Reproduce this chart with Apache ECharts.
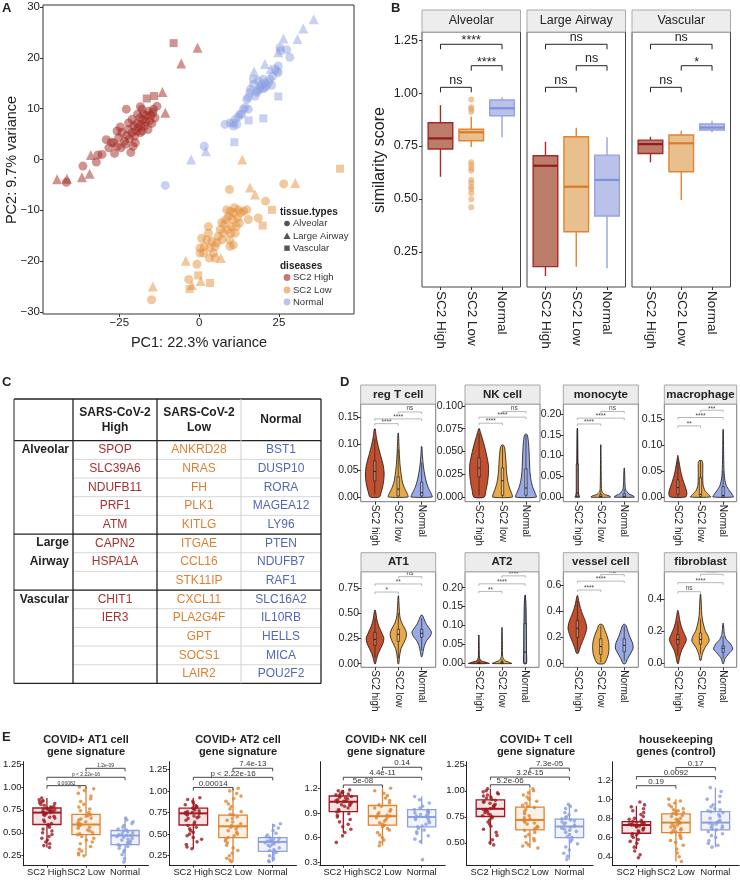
<!DOCTYPE html>
<html><head><meta charset="utf-8">
<script src="https://cdn.jsdelivr.net/npm/echarts@6/dist/echarts.min.js"></script>
<style>html,body{margin:0;padding:0;background:#fff}#c{width:740px;height:880px}</style>
</head><body><div id="c"></div>
<script>
const FONT='"Liberation Sans", Arial, Helvetica, sans-serif';

// ===== Panel A : PCA =====
const pcHighAlveolar=[[-29.1,3.9],[-28.3,2.3],[-27.5,3.4],[-26.5,1.2],[-25.7,2.6],[-25.2,4.3],[-24.5,2.3],[-24.2,5.3],[-23.4,3.6],[-23.1,3.0],[-22.6,4.7],[-22.1,5.9],[-21.8,4.1],[-21.4,1.4],[-21.0,5.3],[-20.5,6.6],[-20.2,4.6],[-19.7,5.6],[-19.5,7.1],[-19.0,6.3],[-18.6,8.2],[-18.4,5.3],[-18.2,6.9],[-17.9,5.6],[-17.6,7.9],[-17.4,8.9],[-17.1,6.6],[-16.8,7.4],[-16.4,8.6],[-16.0,5.9],[-15.8,9.5],[-15.5,7.6],[-15.1,8.7],[-14.8,7.1],[-14.5,9.2],[-14.3,9.9],[-13.8,8.2],[-13.2,10.5],[-20.0,3.3],[-22.8,9.9],[-21.0,7.9],[-19.3,8.9],[-17.9,9.9],[-25.7,5.6],[-26.8,3.3],[-30.4,1.0],[-24.7,6.4],[-22.1,7.2],[-18.4,10.4],[-20.7,2.6],[-41.6,-4.5],[-36.4,-1.3],[-32.2,-0.5],[-31.7,0.9]];
const pcHighAirway=[[-44.5,-3.9],[-41.4,-3.8],[-36.7,-3.5],[-34.3,-2.8],[-33.9,0.9],[-11.5,13.3],[-10.6,9.2],[-5.6,18.9],[-0.5,22.0]];
const pcHighVascular=[[-8.0,22.9],[-16.4,12.0],[-14.1,12.5]];
const pcLowAlveolar=[[0.3,-18.4],[0.8,-15.5],[1.6,-17.1],[2.4,-15.8],[2.9,-13.2],[3.4,-17.4],[4.0,-16.1],[4.5,-18.4],[5.0,-17.1],[5.5,-16.4],[6.0,-15.1],[6.6,-13.8],[7.1,-12.4],[7.6,-14.5],[7.8,-12.8],[8.4,-11.8],[8.9,-13.8],[9.2,-11.2],[9.5,-15.8],[9.7,-10.2],[9.9,-14.5],[10.2,-13.2],[10.5,-11.8],[10.7,-10.5],[11.0,-9.5],[11.3,-14.5],[11.6,-13.2],[12.0,-11.5],[12.3,-9.9],[12.6,-12.5],[13.0,-10.5],[13.9,-10.2],[14.9,-9.9],[15.4,-11.8],[18.5,-11.5],[3.2,-19.4],[5.0,-19.4],[0.3,-17.4],[1.4,-18.4],[10.7,-16.8],[9.7,-17.1],[7.1,-15.8],[2.9,-14.5],[8.6,-9.9],[26.5,-4.8],[20.8,-8.2],[9.5,-5.9],[-14.9,-27.6],[-3.3,-23.6],[-0.7,-20.6]];
const pcLowAirway=[[13.5,0],[30.1,-4.6],[15.9,-5.5],[17.5,-6.9],[-4.2,-19.9],[6.8,-19.4],[-14.5,-25.0],[-2.3,-24.7],[0.5,-23.9]];
const pcLowVascular=[[44.1,-1.8],[22.8,-9.9],[19.9,-13.0],[-0.3,-22.8],[-3.0,-25.5],[3.4,-24.3]];
const pcNormAlveolar=[[8.1,6.9],[9.7,7.2],[10.7,7.1],[11.8,6.9],[11.3,7.9],[12.3,8.4],[12.8,8.9],[13.9,9.9],[14.4,10.2],[14.9,11.8],[15.4,12.2],[15.9,13.2],[16.1,13.8],[17.0,14.8],[17.5,12.5],[18.0,13.2],[18.2,13.5],[18.9,13.8],[19.1,14.3],[19.6,14.8],[19.9,13.9],[20.6,14.1],[21.1,14.5],[21.7,15.1],[22.2,15.8],[22.7,14.6],[23.0,16.4],[23.8,17.8],[24.3,17.4],[24.8,18.4],[25.3,22.0],[25.5,21.4],[27.4,21.6],[28.4,20.1],[24.8,17.1],[20.1,15.8],[17.0,15.8],[13.3,8.9],[15.4,9.9],[10.7,6.6],[20.6,15.1],[18.5,15.5],[-10.6,-5.1],[1.6,2.6]];
const pcNormAirway=[[-2.5,0],[2.1,1.6],[17.2,17.3],[20.6,18.8],[24.8,21.1],[26.4,23.8],[30.8,23.7],[32.6,25.8],[35.9,27.6],[22.4,17.8]];
const pcNormVascular=[[11.0,3.4],[15.5,7.7],[20.1,8.1],[24.8,12.4]];
const pcXTicks=[-25,0,25];
const pcYTicks=[-30,-20,-10,0,10,20,30];

// ===== Panel B : similarity boxplots [lo,q1,med,q3,hi] =====
const bFacets=['Alveolar','Large Airway','Vascular'];
const bCats=['SC2 High','SC2 Low','Normal'];
const bAlveolar=[[0.605,0.736,0.786,0.86,0.943],[0.745,0.775,0.815,0.829,0.888],[0.791,0.893,0.928,0.967,0.98]];
const bLargeAirway=[[0.137,0.181,0.657,0.704,0.77],[0.18,0.346,0.558,0.794,0.836],[0.173,0.42,0.59,0.707,0.791]];
const bVascular=[[0.673,0.715,0.759,0.778,0.794],[0.495,0.629,0.763,0.802,0.822],[0.815,0.826,0.837,0.854,0.869]];
const bAlvLowOutliers=[0.970,0.933,0.925,0.912,0.673,0.660,0.645,0.634,0.590,0.577,0.558,0.546,0.527,0.499,0.461];
const bBrAlveolar=[[1,3,1.23,'****'],[2,3,1.129,'****'],[1,2,1.027,'ns']];
const bBrLargeAirway=[[1,3,1.23,'ns'],[2,3,1.129,'ns'],[1,2,1.027,'ns']];
const bBrVascular=[[1,3,1.23,'ns'],[2,3,1.129,'*'],[1,2,1.027,'ns']];
const bYTicks=[0.25,0.5,0.75,1.0,1.25];

// ===== Panel C : table =====
const cHeaders=['SARS-CoV-2\nHigh','SARS-CoV-2\nLow','Normal'];
const cGroups=['Alveolar','Large\nAirway','Vascular'];
const cGroupRows=[5,3,5];
const cHigh=['SPOP','SLC39A6','NDUFB11','PRF1','ATM','CAPN2','HSPA1A','','CHIT1','IER3','','',''];
const cLow=['ANKRD28','NRAS','FH','PLK1','KITLG','ITGAE','CCL16','STK11IP','CXCL11','PLA2G4F','GPT','SOCS1','LAIR2'];
const cNormal=['BST1','DUSP10','RORA','MAGEA12','LY96','PTEN','NDUFB7','RAF1','SLC16A2','IL10RB','HELLS','MICA','POU2F2'];

// ===== Panel D : violins, profiles [value, half-width] =====
const dCats=['SC2 high','SC2 low','Normal'];
const dTitles=['reg T cell','NK cell','monocyte','macrophage','AT1','AT2','vessel cell','fibroblast'];
const vRegT=[
 [[0,0.2],[0.01,0.28],[0.02,0.34],[0.03,0.38],[0.045,0.4],[0.06,0.36],[0.075,0.27],[0.09,0.18],[0.105,0.1],[0.118,0.05],[0.128,0.02]],
 [[0,0.42],[0.005,0.4],[0.012,0.32],[0.02,0.24],[0.03,0.17],[0.045,0.12],[0.06,0.08],[0.08,0.05],[0.1,0.03],[0.12,0.01]],
 [[0,0.45],[0.005,0.42],[0.012,0.34],[0.02,0.26],[0.03,0.19],[0.045,0.12],[0.06,0.07],[0.08,0.03],[0.095,0.01]]];
const vNK=[
 [[0,0.22],[0.008,0.3],[0.016,0.36],[0.025,0.4],[0.035,0.4],[0.045,0.33],[0.055,0.24],[0.065,0.13],[0.072,0.05],[0.075,0.01]],
 [[0,0.42],[0.004,0.39],[0.01,0.3],[0.018,0.22],[0.028,0.17],[0.038,0.15],[0.048,0.12],[0.054,0.09],[0.057,0.04]],
 [[0,0.44],[0.004,0.4],[0.01,0.3],[0.018,0.22],[0.028,0.17],[0.04,0.15],[0.052,0.13],[0.062,0.1],[0.068,0.06],[0.069,0.02]]];
const vMono=[
 [[0,0.1],[0.004,0.07],[0.01,0.04],[0.03,0.03],[0.08,0.025],[0.12,0.02],[0.16,0.012],[0.166,0.004]],
 [[0,0.42],[0.003,0.36],[0.007,0.15],[0.015,0.04],[0.04,0.02],[0.09,0.012],[0.126,0.004]],
 [[0,0.43],[0.003,0.38],[0.008,0.2],[0.018,0.06],[0.035,0.03],[0.055,0.02],[0.07,0.006]]];
const vMacro=[
 [[0,0.35],[0.008,0.4],[0.018,0.34],[0.028,0.26],[0.038,0.19],[0.048,0.13],[0.058,0.09],[0.068,0.05],[0.076,0.02],[0.08,0.005]],
 [[0,0.45],[0.005,0.35],[0.012,0.2],[0.022,0.12],[0.035,0.1],[0.05,0.1],[0.065,0.1],[0.07,0.06]],
 [[0,0.45],[0.005,0.4],[0.012,0.28],[0.022,0.14],[0.035,0.07],[0.055,0.035],[0.09,0.02],[0.13,0.008]]];
const vAT1=[
 [[0,0.02],[0.05,0.07],[0.1,0.14],[0.15,0.24],[0.2,0.34],[0.25,0.38],[0.3,0.3],[0.35,0.2],[0.4,0.12],[0.45,0.07],[0.5,0.04],[0.53,0.01]],
 [[0,0.02],[0.05,0.04],[0.1,0.07],[0.15,0.12],[0.2,0.22],[0.25,0.32],[0.3,0.35],[0.35,0.27],[0.4,0.15],[0.45,0.08],[0.5,0.05],[0.58,0.03],[0.67,0.01]],
 [[0.07,0.02],[0.12,0.06],[0.18,0.12],[0.23,0.22],[0.27,0.36],[0.31,0.42],[0.35,0.32],[0.39,0.2],[0.43,0.12],[0.46,0.07],[0.48,0.02]]];
const vAT2=[
 [[0,0.45],[0.003,0.32],[0.007,0.1],[0.015,0.03],[0.04,0.015],[0.075,0.005]],
 [[0,0.42],[0.003,0.32],[0.008,0.12],[0.018,0.03],[0.05,0.018],[0.095,0.005]],
 [[0,0.06],[0.03,0.06],[0.07,0.055],[0.11,0.05],[0.15,0.04],[0.18,0.01]]];
const vVessel=[
 [[0.08,0.04],[0.12,0.11],[0.17,0.22],[0.22,0.33],[0.27,0.4],[0.32,0.35],[0.37,0.24],[0.42,0.14],[0.47,0.07],[0.52,0.01]],
 [[0,0.14],[0.03,0.24],[0.07,0.32],[0.12,0.35],[0.17,0.33],[0.22,0.25],[0.26,0.16],[0.29,0.1],[0.3,0.05]],
 [[0,0.05],[0.04,0.15],[0.08,0.28],[0.12,0.38],[0.16,0.35],[0.2,0.25],[0.25,0.15],[0.29,0.08],[0.3,0.03]]];
const vFibro=[
 [[0,0.02],[0.04,0.08],[0.08,0.16],[0.12,0.3],[0.15,0.38],[0.18,0.3],[0.22,0.18],[0.26,0.1],[0.3,0.05],[0.33,0.01]],
 [[0.02,0.02],[0.06,0.08],[0.1,0.2],[0.14,0.38],[0.17,0.34],[0.2,0.22],[0.25,0.12],[0.3,0.06],[0.36,0.04],[0.43,0.01]],
 [[0,0.02],[0.03,0.08],[0.06,0.24],[0.09,0.42],[0.12,0.34],[0.15,0.15],[0.18,0.06],[0.22,0.03],[0.25,0.01]]];
// inner boxes [lo,q1,med,q3,hi]
const dBoxRegT=[[0.005,0.03,0.048,0.068,0.11],[0,0.002,0.015,0.038,0.09],[0,0.002,0.008,0.028,0.065]];
const dBoxNK=[[0.002,0.022,0.032,0.043,0.07],[0,0.002,0.018,0.032,0.056],[0,0.002,0.01,0.031,0.068]];
const dBoxMono=[[0,0.002,0.01,0.08,0.165],[0,0,0.002,0.006,0.015],[0,0,0.002,0.008,0.02]];
const dBoxMacro=[[0,0.005,0.018,0.033,0.07],[0,0.001,0.005,0.037,0.07],[0,0,0.003,0.02,0.05]];
const dBoxAT1=[[0.05,0.18,0.24,0.31,0.45],[0.05,0.22,0.29,0.34,0.5],[0.13,0.26,0.3,0.34,0.45]];
const dBoxAT2=[[0,0,0.001,0.003,0.008],[0,0,0.002,0.005,0.012],[0,0.001,0.03,0.105,0.18]];
const dBoxVessel=[[0.1,0.2,0.27,0.33,0.48],[0.01,0.07,0.13,0.19,0.29],[0.02,0.09,0.14,0.19,0.29]];
const dBoxFibro=[[0.05,0.12,0.15,0.18,0.26],[0.06,0.12,0.15,0.19,0.28],[0.03,0.07,0.095,0.11,0.17]];
const dBrRegT=[[1,2,0.138,'****'],[1,3,0.147,'****'],[2,3,0.160,'ns']];
const dBrNK=[[1,2,0.081,'****'],[1,3,0.0876,'****'],[2,3,0.0937,'ns']];
const dBrMono=[[1,2,0.176,'****'],[1,3,0.19,'****'],[2,3,0.206,'ns']];
const dBrMacro=[[1,2,0.137,'**'],[1,3,0.153,'****'],[2,3,0.167,'***']];
const dBrAT1=[[1,2,0.708,'*'],[1,3,0.788,'**'],[2,3,0.86,'ns']];
const dBrAT2=[[1,2,0.19,'**'],[1,3,0.21,'****'],[2,3,0.231,'****']];
const dBrVessel=[[1,2,0.562,'****'],[1,3,0.63,'****'],[2,3,0.68,'ns']];
const dBrFibro=[[1,2,0.447,'ns'],[1,3,0.503,'****'],[2,3,0.555,'****']];
const dTicksRegT=[0,0.05,0.10,0.15], dTicksNK=[0,0.025,0.05,0.075,0.1], dTicksMono=[0,0.05,0.1,0.15,0.2], dTicksMacro=[0,0.05,0.1,0.15];
const dTicksAT1=[0,0.25,0.5,0.75], dTicksAT2=[0,0.05,0.1,0.15,0.2], dTicksVessel=[0,0.2,0.4,0.6], dTicksFibro=[0,0.2,0.4];

// ===== Panel E : signature scores =====
const eCats=['SC2 High','SC2 Low','Normal'];
const eTitles=['COVID+ AT1 cell\ngene signature','COVID+ AT2 cell\ngene signature','COVID+ NK cell\ngene signature','COVID+ T cell\ngene signature','housekeeping\ngenes (control)'];
const e1High=[0.88,0.86,0.85,0.84,0.83,0.82,0.81,0.80,0.79,0.78,0.77,0.77,0.76,0.76,0.75,0.75,0.74,0.74,0.73,0.73,0.72,0.72,0.71,0.71,0.70,0.69,0.68,0.67,0.66,0.64,0.62,0.60,0.59,0.58,0.56,0.54,0.52,0.50,0.48,0.46,0.44,0.42,0.40,0.38,0.36,0.34];
const e1Low=[1.00,0.98,0.96,0.93,0.90,0.87,0.84,0.81,0.78,0.76,0.74,0.72,0.70,0.69,0.68,0.66,0.65,0.64,0.62,0.61,0.60,0.59,0.58,0.57,0.56,0.55,0.53,0.52,0.50,0.49,0.48,0.46,0.44,0.42,0.40,0.38,0.35,0.32,0.30,0.28,0.26,0.25];
const e1Norm=[0.66,0.64,0.62,0.60,0.58,0.56,0.54,0.53,0.52,0.51,0.50,0.49,0.48,0.47,0.47,0.46,0.45,0.44,0.43,0.42,0.41,0.40,0.39,0.38,0.37,0.36,0.35,0.33,0.31,0.29,0.26,0.22,0.18];
const e2High=[0.92,0.90,0.88,0.86,0.84,0.83,0.82,0.81,0.80,0.79,0.78,0.77,0.76,0.75,0.75,0.74,0.73,0.72,0.71,0.70,0.69,0.68,0.66,0.64,0.62,0.60,0.58,0.56,0.54,0.52,0.50,0.48,0.46,0.44,0.41,0.38,0.35,0.33];
const e2Low=[1.03,1.00,0.97,0.94,0.91,0.88,0.85,0.82,0.79,0.76,0.73,0.72,0.70,0.68,0.66,0.64,0.62,0.60,0.59,0.58,0.56,0.54,0.52,0.50,0.48,0.46,0.44,0.42,0.40,0.37,0.34,0.31,0.28,0.25,0.22,0.20,0.18];
const e2Norm=[0.62,0.60,0.57,0.54,0.51,0.49,0.47,0.46,0.45,0.44,0.43,0.42,0.41,0.41,0.40,0.39,0.38,0.37,0.36,0.34,0.32,0.31,0.30,0.29,0.27,0.25,0.23,0.21,0.19,0.18];
const e3High=[1.18,1.17,1.16,1.15,1.14,1.13,1.12,1.11,1.10,1.09,1.08,1.07,1.06,1.05,1.04,1.04,1.03,1.02,1.01,1.00,0.99,0.98,0.96,0.94,0.92,0.91,0.89,0.87,0.85,0.82,0.79,0.76,0.73,0.70,0.66,0.62,0.54];
const e3Low=[1.20,1.17,1.14,1.11,1.08,1.05,1.02,1.00,0.98,0.96,0.94,0.92,0.90,0.88,0.87,0.86,0.85,0.84,0.82,0.80,0.78,0.76,0.75,0.73,0.71,0.69,0.66,0.63,0.60,0.57,0.54,0.50];
const e3Norm=[1.10,1.06,1.02,0.98,0.96,0.94,0.93,0.92,0.91,0.90,0.89,0.88,0.87,0.86,0.85,0.84,0.83,0.82,0.80,0.78,0.76,0.74,0.73,0.71,0.69,0.67,0.65,0.62,0.58,0.55,0.33];
const e4High=[1.02,1.00,0.99,0.98,0.97,0.96,0.95,0.94,0.93,0.92,0.91,0.90,0.89,0.88,0.87,0.86,0.85,0.84,0.83,0.82,0.82,0.81,0.80,0.79,0.78,0.77,0.76,0.75,0.74,0.72,0.70,0.68,0.66,0.63,0.60,0.57,0.53,0.50,0.48];
const e4Low=[1.02,1.00,0.98,0.96,0.94,0.92,0.90,0.88,0.86,0.85,0.84,0.82,0.80,0.78,0.76,0.74,0.73,0.72,0.71,0.70,0.69,0.68,0.66,0.65,0.64,0.63,0.62,0.60,0.58,0.56,0.54,0.52,0.50,0.48,0.47,0.45];
const e4Norm=[0.87,0.85,0.83,0.81,0.79,0.77,0.75,0.74,0.73,0.72,0.71,0.70,0.69,0.68,0.67,0.66,0.65,0.64,0.63,0.62,0.61,0.60,0.58,0.56,0.55,0.53,0.51,0.49,0.46,0.43,0.40,0.37,0.34];
const e5High=[0.97,0.94,0.92,0.90,0.88,0.86,0.84,0.82,0.80,0.79,0.78,0.77,0.76,0.76,0.75,0.75,0.74,0.74,0.73,0.73,0.72,0.72,0.71,0.70,0.69,0.68,0.67,0.66,0.65,0.64,0.63,0.62,0.60,0.58,0.56,0.54,0.50,0.46,0.42,0.39];
const e5Low=[1.00,0.98,0.96,0.94,0.92,0.90,0.89,0.88,0.87,0.86,0.85,0.84,0.83,0.82,0.80,0.79,0.78,0.77,0.76,0.75,0.74,0.73,0.72,0.71,0.70,0.69,0.68,0.67,0.66,0.65,0.63,0.61,0.59,0.57,0.55,0.52,0.48,0.44,0.40,0.35];
const e5Norm=[1.12,1.08,1.03,1.00,0.97,0.94,0.92,0.90,0.89,0.88,0.87,0.86,0.84,0.82,0.80,0.78,0.77,0.76,0.75,0.74,0.73,0.72,0.71,0.70,0.69,0.68,0.66,0.64,0.62,0.60,0.57,0.54,0.52,0.50];
const e1Box=[[0.34,0.59,0.72,0.77,0.88],[0.25,0.48,0.59,0.70,1.00],[0.18,0.37,0.47,0.525,0.66]];
const e2Box=[[0.33,0.605,0.74,0.80,0.92],[0.18,0.46,0.59,0.72,1.03],[0.18,0.30,0.41,0.46,0.62]];
const e3Box=[[0.66,0.915,1.036,1.106,1.18],[0.50,0.75,0.86,0.99,1.20],[0.52,0.73,0.85,0.94,1.10]];
const e4Box=[[0.48,0.753,0.827,0.913,1.02],[0.45,0.625,0.72,0.843,1.02],[0.34,0.55,0.657,0.728,0.87]];
const e5Box=[[0.48,0.645,0.731,0.766,0.93],[0.35,0.651,0.756,0.846,1.00],[0.50,0.68,0.756,0.87,1.12]];
const e1Br=[[1,2,1.014,'0.00082'],[1,3,1.105,'p < 2.22e-16'],[2,3,1.203,'1.2e-09']];
const e2Br=[[1,2,1.04,'0.00014'],[1,3,1.157,'p < 2.22e-16'],[2,3,1.262,'7.4e-13']];
const e3Br=[[1,2,1.24,'5e-08'],[1,3,1.334,'4.4e-11'],[2,3,1.456,'0.14']];
const e4Br=[[1,2,1.058,'5.2e-06'],[1,3,1.132,'3.2e-15'],[2,3,1.218,'7.3e-05']];
const e5Br=[[1,2,1.14,'0.19'],[1,3,1.235,'0.0092'],[2,3,1.33,'0.17']];
const e1Ticks=[0.25,0.5,0.75,1.0,1.25], e2Ticks=[0.25,0.5,0.75,1.0,1.25], e3Ticks=[0.3,0.6,0.9,1.2], e4Ticks=[0.5,0.75,1.0,1.25], e5Ticks=[0.4,0.6,0.8,1.0,1.2];

// ================= building =================
const grids=[],xAxes=[],yAxes=[],series=[],G=[];
const txtStyle=(s,o)=>({text:s,fill:o.color||'#222',font:(o.bold?'bold ':'')+(o.size||12)+'px '+FONT,align:o.align||'center',verticalAlign:o.va||'middle',textAlign:o.align||'center',textVerticalAlign:o.va||'middle',lineHeight:o.lh||undefined});
function txt(x,y,s,o={}){G.push({type:'text',x:x,y:y,rotation:o.rot||0,silent:true,z:10,style:txtStyle(s,o)});}
function line(x1,y1,x2,y2,c,w){G.push({type:'line',silent:true,z:9,shape:{x1,y1,x2,y2},style:{stroke:c,lineWidth:w}});}
function rect(x,y,w,h,fill,stroke,lw){G.push({type:'rect',silent:true,z:8,shape:{x,y,width:w,height:h},style:{fill:fill,stroke:stroke,lineWidth:lw||1}});}

function addPanel(o){
  const i=grids.length;
  grids.push({left:o.left,top:o.top,width:o.width,height:o.height,show:!!o.frame,borderColor:o.frame||'#000',borderWidth:o.frame?1:0,backgroundColor:'rgba(0,0,0,0)'});
  xAxes.push({type:'value',gridIndex:i,min:o.xmin,max:o.xmax,
    axisLine:{show:!!o.axisLines,onZero:false,lineStyle:{color:'#222',width:1}},
    axisTick:{show:true,customValues:o.xTicks,length:o.tickLen||3,lineStyle:{color:'#333'}},
    axisLabel:{show:o.xLabelShow!==false,customValues:o.xTicks,formatter:o.xFmt,rotate:o.xRotate||0,fontSize:o.xFont||11,color:'#222',fontFamily:FONT,margin:o.xMargin||3,hideOverlap:false},
    splitLine:{show:false}});
  yAxes.push({type:'value',gridIndex:i,min:o.ymin,max:o.ymax,
    axisLine:{show:!!o.axisLines,onZero:false,lineStyle:{color:'#222',width:1}},
    axisTick:{show:true,customValues:o.yTicks,length:o.tickLen||3,lineStyle:{color:'#333'}},
    axisLabel:{show:true,customValues:o.yTicks,formatter:o.yFmt,fontSize:o.yFont||11,color:'#222',fontFamily:FONT,margin:o.yMargin||3,hideOverlap:false},
    splitLine:{show:false}});
  return i;
}
const catFmt=names=>(v=>names[Math.round(v)-1]||'');
const dec=d=>(v=>Number(v).toFixed(d));

function boxSeries(gi,items,st,w,z){
  series.push({type:'custom',xAxisIndex:gi,yAxisIndex:gi,z:z||2,silent:true,
    data:items.map((b,k)=>[k+1,b[0],b[1],b[2],b[3],b[4]]),encode:{x:0,y:[1,2,3,4,5]},
    renderItem:(p,api)=>{
      const x=api.value(0),lo=api.value(1),q1=api.value(2),md=api.value(3),q3=api.value(4),hi=api.value(5);
      const s=st[p.dataIndex];
      const a=api.coord([x-w/2,q3]),b=api.coord([x+w/2,q1]);
      const m1=api.coord([x-w/2,md]),m2=api.coord([x+w/2,md]);
      const t=api.coord([x,hi]),tq=api.coord([x,q3]),bq=api.coord([x,q1]),bt=api.coord([x,lo]);
      return {type:'group',children:[
        {type:'line',shape:{x1:t[0],y1:t[1],x2:tq[0],y2:tq[1]},style:{stroke:s.stroke,lineWidth:s.lw}},
        {type:'line',shape:{x1:bq[0],y1:bq[1],x2:bt[0],y2:bt[1]},style:{stroke:s.stroke,lineWidth:s.lw}},
        {type:'rect',shape:{x:a[0],y:a[1],width:b[0]-a[0],height:b[1]-a[1]},style:{fill:s.fill,stroke:s.stroke,lineWidth:s.lw}},
        {type:'line',shape:{x1:m1[0],y1:m1[1],x2:m2[0],y2:m2[1]},style:{stroke:s.med,lineWidth:s.mlw}}]};
    }});
}
function bracketSeries(gi,items,o){
  series.push({type:'custom',xAxisIndex:gi,yAxisIndex:gi,z:6,silent:true,
    data:items.map(d=>[d[0],d[1],d[2]]),encode:{x:[0,1],y:2},
    renderItem:(p,api)=>{
      const lab=items[p.dataIndex][3];
      const a=api.coord([api.value(0),api.value(2)]),b=api.coord([api.value(1),api.value(2)]);
      const star=/^\*+$/.test(lab);
      return {type:'group',children:[
        {type:'polyline',shape:{points:[[a[0],a[1]+o.drop],[a[0],a[1]],[b[0],b[1]],[b[0],b[1]+o.drop]]},style:{stroke:o.color,lineWidth:o.lw,fill:null}},
        {type:'text',x:(a[0]+b[0])/2,y:star?a[1]-o.starGap:a[1]-o.gap,style:txtStyle(lab,{size:o.fs,color:o.tcolor,va:star?'middle':'bottom'})}]};
    }});
}
function violinSeries(gi,profiles,fills){
  series.push({type:'custom',xAxisIndex:gi,yAxisIndex:gi,z:2,silent:true,
    data:profiles.map((pr,i)=>[i+1,pr[0][0],pr[pr.length-1][0]]),encode:{x:0,y:[1,2]},
    renderItem:(p,api)=>{
      const pr=profiles[p.dataIndex],x=api.value(0),pts=[];
      for(let k=0;k<pr.length;k++)pts.push(api.coord([x+pr[k][1],pr[k][0]]));
      for(let k=pr.length-1;k>=0;k--)pts.push(api.coord([x-pr[k][1],pr[k][0]]));
      return {type:'polygon',shape:{points:pts,smooth:0.25},style:{fill:fills[p.dataIndex],stroke:'#111',lineWidth:0.8}};
    }});
}
// category labels drawn through the axis scale (avoids label auto-hiding)
function catLabelSeries(gi,names,yBase,fs,offset){
  series.push({type:'custom',xAxisIndex:gi,yAxisIndex:gi,z:6,silent:true,clip:false,
    data:names.map((n,i)=>[i+1,yBase]),encode:{x:0,y:1},
    renderItem:(p,api)=>{const c=api.coord([api.value(0),api.value(1)]);
      return {type:'text',x:c[0],y:c[1]+offset,style:txtStyle(names[p.dataIndex],{size:fs,va:'top'})};}});
}

// ----- Panel A -----
const colA={high:'rgba(160,38,30,0.62)',low:'rgba(228,140,52,0.6)',normal:'rgba(140,158,225,0.6)'};
const gA=addPanel({left:43,top:5,width:311,height:309,xmin:-48.9,xmax:48.5,ymin:-30.4,ymax:30.4,frame:'#333',
  xTicks:pcXTicks,yTicks:pcYTicks,xFmt:v=>String(v).replace('-','\u2212'),yFmt:v=>String(v).replace('-','\u2212'),xFont:11.5,yFont:11.5});
[[pcHighAlveolar,'circle',colA.high],[pcHighAirway,'triangle',colA.high],[pcHighVascular,'rect',colA.high],
 [pcLowAlveolar,'circle',colA.low],[pcLowAirway,'triangle',colA.low],[pcLowVascular,'rect',colA.low],
 [pcNormAlveolar,'circle',colA.normal],[pcNormAirway,'triangle',colA.normal],[pcNormVascular,'rect',colA.normal]].forEach(s=>{
  series.push({type:'scatter',xAxisIndex:gA,yAxisIndex:gA,data:s[0],symbol:s[1],symbolSize:s[1]==='rect'?8:(s[1]==='triangle'?10:9),itemStyle:{color:s[2]},silent:true});
});
txt(2,8,'A',{bold:true,size:13,align:'left'});
txt(12,160,'PC2: 9.7% variance',{size:14.5,rot:Math.PI/2});
txt(199,343,'PC1: 22.3% variance',{size:14.5});
// legend
txt(280,212,'tissue.types',{bold:true,size:10,align:'left'});
G.push({type:'circle',silent:true,z:9,shape:{cx:287,cy:223.5,r:2.8},style:{fill:'#555'}});
G.push({type:'polygon',silent:true,z:9,shape:{points:[[287,232.5],[290.5,239],[283.5,239]]},style:{fill:'#555'}});
rect(284.3,245.5,5.4,5.4,'#555',null,0);
txt(293,223.5,'Alveolar',{size:9.5,align:'left',color:'#333'});
txt(293,236,'Large Airway',{size:9.5,align:'left',color:'#333'});
txt(293,248.5,'Vascular',{size:9.5,align:'left',color:'#333'});
txt(280,266,'diseases',{bold:true,size:10,align:'left'});
[[277.5,colA.high,'SC2 High'],[290,colA.low,'SC2 Low'],[302,colA.normal,'Normal']].forEach(d=>{
  G.push({type:'circle',silent:true,z:9,shape:{cx:287,cy:d[0],r:3.4},style:{fill:d[1]}});
  txt(293,d[0],d[2],{size:9.5,align:'left',color:'#333'});
});

// ----- Panel B -----
const bStyles=[{fill:'#bb7c68',stroke:'#a52a2e',med:'#931b22',lw:1.4,mlw:2.2},{fill:'#e9bf8e',stroke:'#e08533',med:'#d87a28',lw:1.4,mlw:2.2},{fill:'#bac2e9',stroke:'#94a3e2',med:'#7f90d8',lw:1.4,mlw:2.2}];
const bLefts=[422,527,632],bWidth=98.5;
const bData=[bAlveolar,bLargeAirway,bVascular],bBr=[bBrAlveolar,bBrLargeAirway,bBrVascular];
bLefts.forEach((L,k)=>{
  const g=addPanel({left:L,top:32,width:bWidth,height:255,xmin:0.4,xmax:3.6,ymin:0.085,ymax:1.288,frame:'#444',
    xTicks:[1,2,3],xFmt:catFmt(bCats),xRotate:-90,xFont:13.5,xMargin:4,yTicks:k===0?bYTicks:[],yFmt:dec(2),yFont:12.5,yMargin:4});
  if(k===0){series.push({type:'scatter',xAxisIndex:g,yAxisIndex:g,data:bAlvLowOutliers.map(v=>[2,v]),symbolSize:6,itemStyle:{color:'rgba(230,160,95,0.75)'},silent:true,z:1});}
  boxSeries(g,bData[k],bStyles,0.8,2);
  bracketSeries(g,bBr[k],{drop:5,color:'#222',lw:1,gap:0.5,starGap:3.5,fs:12.5,tcolor:'#222'});
  rect(L,10,bWidth,22,'#ededed','#aaa',1);
  txt(L+bWidth/2,21,bFacets[k],{size:12.5});
});
txt(391,8,'B',{bold:true,size:13,align:'left'});
txt(380,160,'similarity score',{size:16,rot:Math.PI/2});

// ----- Panel C -----
txt(2,382,'C',{bold:true,size:13,align:'left'});
const tL=14,tR=321,tT=399,tH=440.7,rowH=18.67,colX=[73,157,241];
const nRows=cLow.length,tB=tH+nRows*rowH;
for(let r=1;r<nRows;r++){const y=tH+r*rowH;line(colX[0],y,tR,y,'#d6d6d6',1);}
line(tL,tT,tR,tT,'#222',1.3);line(tL,tH,tR,tH,'#222',1.3);line(tL,tB,tR,tB,'#222',1.3);
line(tL,tT,tL,tB,'#555',1.3);line(tR,tT,tR,tB,'#222',1.3);
line(colX[0],tT,colX[0],tB,'#222',1.3);line(colX[1],tT,colX[1],tB,'#222',1.3);line(colX[2],tT,colX[2],tB,'#cfcfcf',1);
let acc=0;
cGroups.forEach((g,k)=>{
  const y0=tH+acc*rowH;
  if(k>0)line(tL,y0,tR,y0,'#222',1.3);
  if(g.indexOf('\n')>=0)txt(69,y0+rowH*0.5+9,g,{bold:true,size:12,align:'right',lh:19});
  else txt(69,y0+rowH*0.5,g,{bold:true,size:12,align:'right'});
  acc+=cGroupRows[k];
});
const colC=[(colX[0]+colX[1])/2,(colX[1]+colX[2])/2,(colX[2]+tR)/2];
cHeaders.forEach((h,k)=>txt(colC[k],(tT+tH)/2,h,{bold:true,size:12,lh:15}));
const geneCols=[[cHigh,'#a8302f'],[cLow,'#dc7f33'],[cNormal,'#5466bb']];
geneCols.forEach((gc,k)=>gc[0].forEach((gname,r)=>{if(gname)txt(colC[k],tH+(r+0.5)*rowH,gname,{size:12,color:gc[1]});}));

// ----- Panel D -----
txt(340,382,'D',{bold:true,size:13,align:'left'});
const dFills=['#c2502f','#e9a94a','#9aaae6'];
const dPanels=[
 {l:360.7,w:75,t:404,h:97.7,y:[-0.0088,0.175],tk:dTicksRegT,d:2,v:vRegT,b:dBoxRegT,br:dBrRegT},
 {l:465,w:75,t:404,h:97.7,y:[-0.005,0.102],tk:dTicksNK,d:3,v:vNK,b:dBoxNK,br:dBrNK},
 {l:563.3,w:75,t:404,h:97.7,y:[-0.011,0.224],tk:dTicksMono,d:2,v:vMono,b:dBoxMono,br:dBrMono},
 {l:664.3,w:72.4,t:404,h:97.7,y:[-0.0091,0.179],tk:dTicksMacro,d:2,v:vMacro,b:dBoxMacro,br:dBrMacro},
 {l:361,w:74.7,t:571.7,h:95.6,y:[-0.036,0.909],tk:dTicksAT1,d:2,v:vAT1,b:dBoxAT1,br:dBrAT1},
 {l:465,w:74,t:571.7,h:95.6,y:[-0.01,0.242],tk:dTicksAT2,d:2,v:vAT2,b:dBoxAT2,br:dBrAT2},
 {l:563.3,w:75,t:571.7,h:95.6,y:[-0.028,0.702],tk:dTicksVessel,d:1,v:vVessel,b:dBoxVessel,br:dBrVessel},
 {l:664.3,w:72.4,t:571.7,h:95.6,y:[-0.023,0.571],tk:dTicksFibro,d:1,v:vFibro,b:dBoxFibro,br:dBrFibro}];
const dInner=[0,1,2].map(()=>({fill:'rgba(255,255,255,0.25)',stroke:'#222',med:'#222',lw:0.7,mlw:1}));
dPanels.forEach((P,k)=>{
  const g=addPanel({left:P.l,top:P.t,width:P.w,height:P.h,xmin:0.4,xmax:3.6,ymin:P.y[0],ymax:P.y[1],frame:'#7a7a7a',
    xTicks:[1,2,3],xFmt:catFmt(dCats),xRotate:-90,xFont:10,xMargin:3,yTicks:P.tk,yFmt:dec(P.d),yFont:10.5,yMargin:2});
  violinSeries(g,P.v,dFills);
  boxSeries(g,P.b,dInner,0.1,3);
  bracketSeries(g,P.br,{drop:2,color:'#9a9a9a',lw:0.7,gap:0,starGap:1.5,fs:6.5,tcolor:'#444'});
  rect(P.l,P.t-19,P.w,19,'#ececec','#a8a8a8',1);
  txt(P.l+P.w/2,P.t-9.5,dTitles[k],{bold:true,size:11.5});
});

// ----- Panel E -----
txt(2,737,'E',{bold:true,size:13,align:'left'});
const eStyles=[{fill:'rgba(158,26,32,0.12)',stroke:'#9e1a20',med:'#9e1a20',lw:1.3,mlw:2},{fill:'rgba(223,132,48,0.12)',stroke:'#df8430',med:'#df8430',lw:1.3,mlw:2},{fill:'rgba(138,158,224,0.12)',stroke:'#8a9ee0',med:'#8a9ee0',lw:1.3,mlw:2}];
const ePtCol=['#9e1a20','#df8430','#8a9ee0'];
// horizontal jitter (layout only): deterministic hash of the point index
const jit=i=>{const h=Math.sin((i+1)*78.233)*43758.5453;return (h-Math.floor(h)-0.5)*0.42;};
const ePanels=[
 {l:23.2,w:125.3,y:[0.141,1.275],tk:e1Ticks,d:2,pts:[e1High,e1Low,e1Norm],box:e1Box,br:e1Br,tx:86,bfs:5},
 {l:169.5,w:127,y:[0.134,1.338],tk:e2Ticks,d:2,pts:[e2High,e2Low,e2Norm],box:e2Box,br:e2Br,tx:238,bfs:8},
 {l:319.8,w:125.4,y:[0.256,1.524],tk:e3Ticks,d:1,pts:[e3High,e3Low,e3Norm],box:e3Box,br:e3Br,tx:386,bfs:8},
 {l:466.7,w:126.4,y:[0.28,1.28],tk:e4Ticks,d:2,pts:[e4High,e4Low,e4Norm],box:e4Box,br:e4Br,tx:536,bfs:8},
 {l:612.7,w:126.4,y:[0.307,1.39],tk:e5Ticks,d:1,pts:[e5High,e5Low,e5Norm],box:e5Box,br:e5Br,tx:676,bfs:8}];
ePanels.forEach((P,k)=>{
  const g=addPanel({left:P.l,top:761.7,width:P.w,height:104,xmin:0.4,xmax:3.6,ymin:P.y[0],ymax:P.y[1],axisLines:true,
    xTicks:[1,2,3],xLabelShow:false,yTicks:P.tk,yFmt:dec(P.d),yFont:9.5,yMargin:2,tickLen:2});
  boxSeries(g,P.box,eStyles,0.72,2);
  P.pts.forEach((arr,c)=>series.push({type:'scatter',xAxisIndex:g,yAxisIndex:g,z:3,silent:true,symbolSize:3.6,
    data:arr.map((v,i)=>[c+1+jit(i+c*101+k*307),v]),itemStyle:{color:ePtCol[c]}}));
  bracketSeries(g,P.br,{drop:3,color:'#333',lw:0.9,gap:0,starGap:2,fs:P.bfs,tcolor:'#333'});
  catLabelSeries(g,eCats,P.y[0],9.3,2.5);
  txt(P.tx,746,eTitles[k],{bold:true,size:11,lh:11.5});
});

const chart=echarts.init(document.getElementById('c'),null,{renderer:'canvas'});
chart.setOption({animation:false,backgroundColor:'#fff',textStyle:{fontFamily:FONT},grid:grids,xAxis:xAxes,yAxis:yAxes,series:series,graphic:{elements:G}});
</script></body></html>
